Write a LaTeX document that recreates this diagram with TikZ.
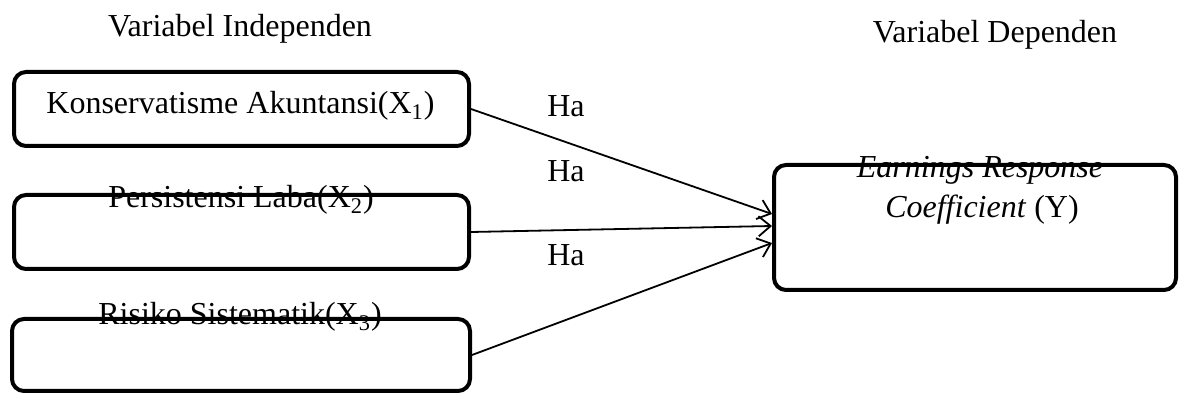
\documentclass[tikz,border=0pt]{standalone}
\usepackage{fontspec}
\setmainfont{Liberation Serif}
\usetikzlibrary{arrows.meta}

\begin{document}
\begin{tikzpicture}[x=0.5pt,y=-0.5pt,
    every node/.style={font=\fontsize{16}{20}\selectfont,inner sep=0pt},
    varbox/.style={draw,line width=2pt,rounded corners=6pt,minimum width=227.5pt,minimum height=37pt},
    arr/.style={line width=0.9pt,-{Straight Barb[length=6pt,width=10pt]}}]
    \useasboundingbox (0,0) rectangle (1182,394);
    \node[anchor=base] (tind) at (240,37) {Variabel Independen};
    \node[anchor=base] (tdep) at (995,43) {Variabel Dependen};
    \node[anchor=base] (lka) at (240.5,114) {Konservatisme Akuntansi(X\textsubscript{1})};
    \node[anchor=base] (lpl) at (241,208) {Persistensi Laba(X\textsubscript{2})};
    \node[anchor=base] (lrs) at (240,325) {Risiko Sistematik(X\textsubscript{3})};
    \node[anchor=base] (lerca) at (980,178) {\textit{Earnings Response}};
    \node[anchor=base] (lercb) at (982,218) {\textit{Coefficient} (Y)};
    \node[varbox] (ka) at (241.5,109) {};
    \node[varbox] (pl) at (241.5,232) {};
    \node[varbox,minimum width=229pt,minimum height=36pt] (rs) at (241,355) {};
    \node[varbox,minimum width=201pt,minimum height=62.5pt] (erc) at (975,227.5) {};
    \coordinate (ina) at ([yshift=6.75pt]erc.west);
    \coordinate (inb) at ([yshift=0.75pt]erc.west);
    \coordinate (inc) at ([yshift=-7.75pt]erc.west);
    \draw[arr] (ka.east) -- (ina);
    \draw[arr] (pl.east) -- (inb);
    \draw[arr] (rs.east) -- (inc);
    \foreach \y/\n in {117/1,182/2,266/3}
    \node[anchor=base] (ha\n) at (566,\y) {Ha};
\end{tikzpicture}
\end{document}
